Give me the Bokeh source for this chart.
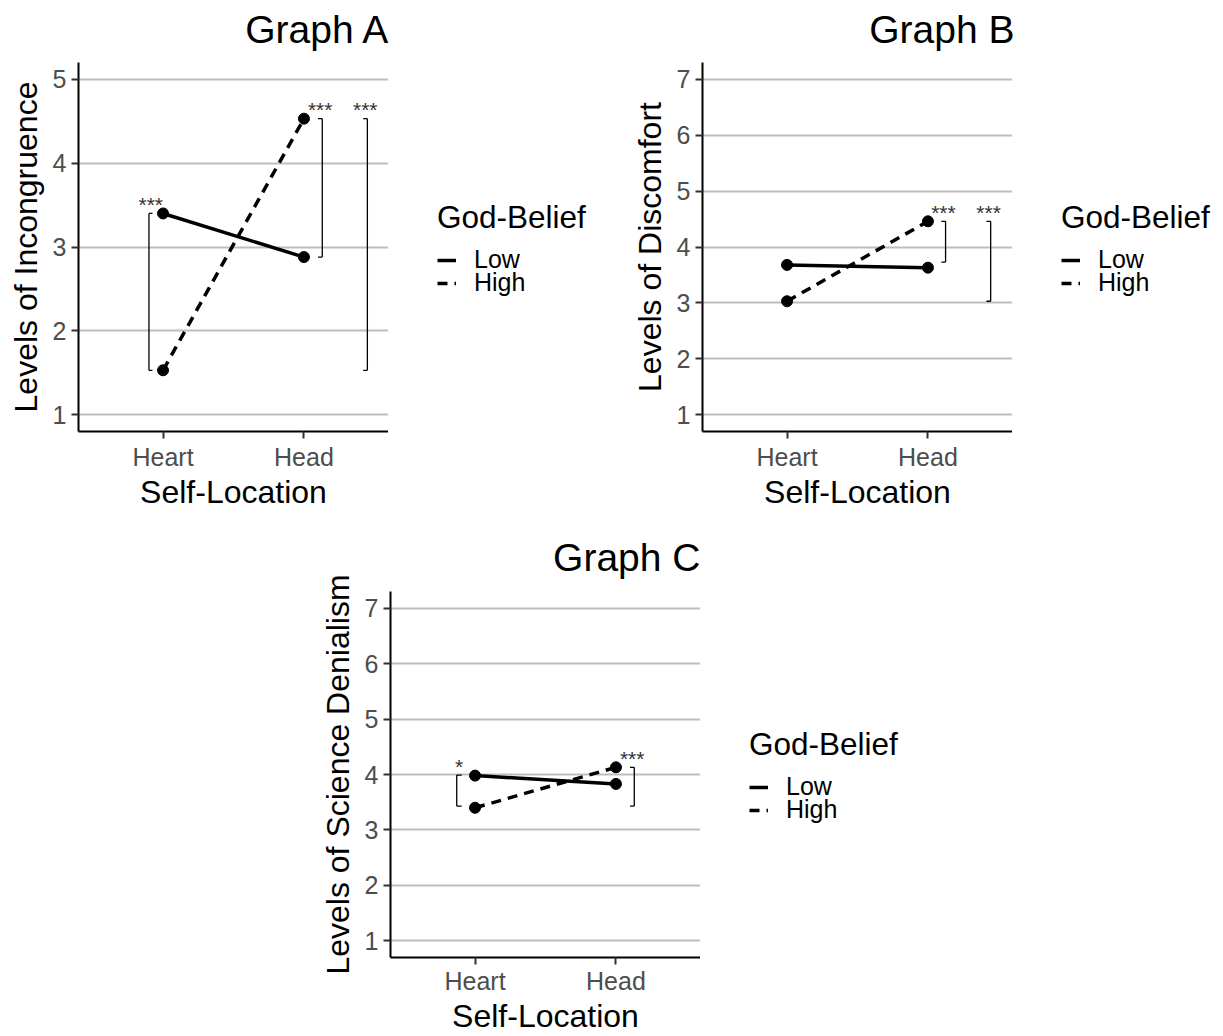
from bokeh.plotting import figure
from bokeh.models import (Range1d, FixedTicker, Legend, LegendItem, Spacer, Label)
from bokeh.layouts import row, column
from bokeh.core.properties import value
from bokeh.embed import file_html
from bokeh.resources import INLINE

FONT = "Liberation Sans"

# ---------------- data ----------------
categories = ["Heart", "Head"]
legend_labels = ["Low", "High"]
legend_title = "God-Belief"
x_title = "Self-Location"

a_low = [3.40, 2.88]
a_high = [1.53, 4.53]
b_low = [3.68, 3.63]
b_high = [3.03, 4.46]
c_low = [3.98, 3.83]
c_high = [3.40, 4.13]

a_yticks = [1, 2, 3, 4, 5]
bc_yticks = [1, 2, 3, 4, 5, 6, 7]

# significance brackets: vertical line x, tip x, lower y, upper y, label
a_br_x = [0.90, 2.13, 2.45]
a_br_tip = [0.925, 2.10, 2.42]
a_br_lo = [1.53, 2.88, 1.53]
a_br_hi = [3.40, 4.53, 4.53]
a_br_lab = ["***", "***", "***"]

b_br_x = [2.125, 2.445]
b_br_tip = [2.095, 2.415]
b_br_lo = [3.73, 3.03]
b_br_hi = [4.46, 4.46]
b_br_lab = ["***", "***"]

c_br_x = [0.87, 2.13]
c_br_tip = [0.905, 2.10]
c_br_lo = [3.43, 3.43]
c_br_hi = [3.99, 4.13]
c_br_lab = ["*", "***"]

X_RANGE = (0.4, 2.6)
FRAME_W = 310
LINE_W = 3.5
DASH = "10 7"
LEG_X = 49
LEG_FIRST_H = 69


def blank(w, h, xr, yr):
    f = figure(width=w, height=h, min_border=0, x_range=xr, y_range=yr,
               x_axis_location=None, y_axis_location=None, title=None,
               output_backend="svg", toolbar_location=None,
               background_fill_color="white", border_fill_color="white")
    f.outline_line_color = None
    f.grid.visible = False
    return f


def legend_block(w, h, xs, ys, dash, label, title=None):
    lg = blank(w, h, Range1d(0, 1), Range1d(0, 1))
    kw = dict(line_dash=dash) if dash else {}
    r = lg.line(xs, ys, line_color="black", line_width=LINE_W, **kw)
    opts = dict(location="top_left",
                label_text_font=FONT, label_text_font_size="25px",
                label_text_color="black", label_standoff=18,
                glyph_width=19, glyph_height=20, label_height=20,
                spacing=0, padding=0, margin=0,
                border_line_color=None, background_fill_alpha=0)
    if title is not None:
        opts.update(title=title, title_text_font=FONT, title_text_font_size="31.5px",
                    title_text_font_style="normal", title_text_color="black",
                    title_standoff=9)
    lg.add_layout(Legend(items=[LegendItem(label=label, renderers=[r])], **opts), "center")
    return lg


def make_panel(title, ylabel, yr, yticks, low, high, br_x, br_tip, br_lo, br_hi, br_lab,
               left, leg_w, title_h, body_h, bottom, tick_standoff, leg_top, strip):
    xs = [i + 1 for i in range(len(categories))]
    p = figure(width=left + FRAME_W, height=body_h if strip else title_h + body_h,
               min_border_left=left, min_border_right=0,
               min_border_top=0 if strip else title_h, min_border_bottom=bottom,
               x_range=Range1d(*X_RANGE), y_range=Range1d(*yr),
               output_backend="svg", toolbar_location=None,
               background_fill_color="white", border_fill_color="white")
    p.outline_line_color = None
    if strip:
        p.title.visible = False
    else:
        p.title.text = title
        p.title.align = "right"
        p.title.text_font = FONT
        p.title.text_font_size = "39px"
        p.title.text_font_style = "normal"
        p.title.text_color = "black"
        p.title.standoff = 25

    # axes
    p.xaxis.ticker = FixedTicker(ticks=xs)
    p.xaxis.major_label_overrides = {x: c for x, c in zip(xs, categories)}
    p.yaxis.ticker = FixedTicker(ticks=yticks)
    p.xaxis.axis_label = x_title
    p.yaxis.axis_label = ylabel
    for ax in (p.xaxis, p.yaxis):
        ax.axis_label_text_font = FONT
        ax.axis_label_text_font_size = "32px"
        ax.axis_label_text_font_style = "normal"
        ax.axis_label_text_color = "black"
        ax.major_label_text_font = FONT
        ax.major_label_text_font_size = "25px"
        ax.major_label_text_color = "#4D4D4D"
        ax.axis_line_color = "black"
        ax.axis_line_width = 2
        ax.major_tick_line_color = "#333333"
        ax.major_tick_line_width = 2
        ax.major_tick_out = 7
        ax.major_tick_in = 0
        ax.minor_tick_out = 0
        ax.minor_tick_in = 0
        ax.major_label_standoff = 5
    p.xaxis.major_label_standoff = tick_standoff
    p.xaxis.axis_label_standoff = 0
    p.yaxis.axis_label_standoff = 6

    p.xgrid.visible = False
    p.ygrid.ticker = FixedTicker(ticks=yticks)
    p.ygrid.grid_line_color = "#BEBEBE"
    p.ygrid.grid_line_width = 2

    # lines and points
    p.line(xs, low, line_color="black", line_width=LINE_W)
    p.line(xs, high, line_color="black", line_width=LINE_W, line_dash=DASH)
    p.scatter(xs, low, size=11, color="black")
    p.scatter(xs, high, size=11, color="black")

    # brackets
    x0, y0, x1, y1 = [], [], [], []
    for bx, bt, lo, hi in zip(br_x, br_tip, br_lo, br_hi):
        x0 += [bx, bx, bx]
        y0 += [lo, lo, hi]
        x1 += [bx, bt, bt]
        y1 += [hi, lo, hi]
    p.segment(x0, y0, x1, y1, line_color="black", line_width=1.3)
    star_x = [(a + b) / 2 for a, b in zip(br_x, br_tip)]
    p.text(star_x, br_hi, text=br_lab, text_align="center", text_baseline="alphabetic",
           y_offset=-9,
           text_font=value(FONT), text_font_size="21px", text_color="#333333")

    # legend (title + first key, then second key) to the right of the panel
    lw = leg_w - LEG_X
    lg1 = legend_block(lw, LEG_FIRST_H, xs, low, None, legend_labels[0], legend_title)
    lg2 = legend_block(lw, p.height - leg_top - LEG_FIRST_H, xs, high, DASH, legend_labels[1])
    body = row(p, Spacer(width=LEG_X, height=10),
               column(Spacer(width=10, height=leg_top), lg1, lg2))

    if strip:
        total_w = left + FRAME_W + leg_w
        t = blank(total_w, title_h, Range1d(0, total_w), Range1d(title_h, 0))
        t.add_layout(Label(x=left + FRAME_W + 2, y=title_h - 33, text=title,
                           text_align="right", text_baseline="alphabetic",
                           text_font=FONT, text_font_size="39px", text_color="black"))
        return column(t, body)
    return body


pA = make_panel("Graph A", "Levels of Incongruence", (0.8, 5.2), a_yticks, a_low, a_high,
                a_br_x, a_br_tip, a_br_lo, a_br_hi, a_br_lab,
                78, 232, 62, 458, 89, 4, 137, True)
pB = make_panel("Graph B", "Levels of Discomfort", (0.7, 7.3), bc_yticks, b_low, b_high,
                b_br_x, b_br_tip, b_br_lo, b_br_hi, b_br_lab,
                82, 211, 62, 458, 89, 4, 137, True)
pC = make_panel("Graph C", "Levels of Science Denialism", (0.7, 7.3), bc_yticks, c_low, c_high,
                c_br_x, c_br_tip, c_br_lo, c_br_hi, c_br_lab,
                78, 232, 71, 445, 79, 2, 206, False)

layout = column(row(pA, pB), row(Spacer(width=312, height=10), pC))

open("out.html", "w").write(file_html(layout, INLINE))
